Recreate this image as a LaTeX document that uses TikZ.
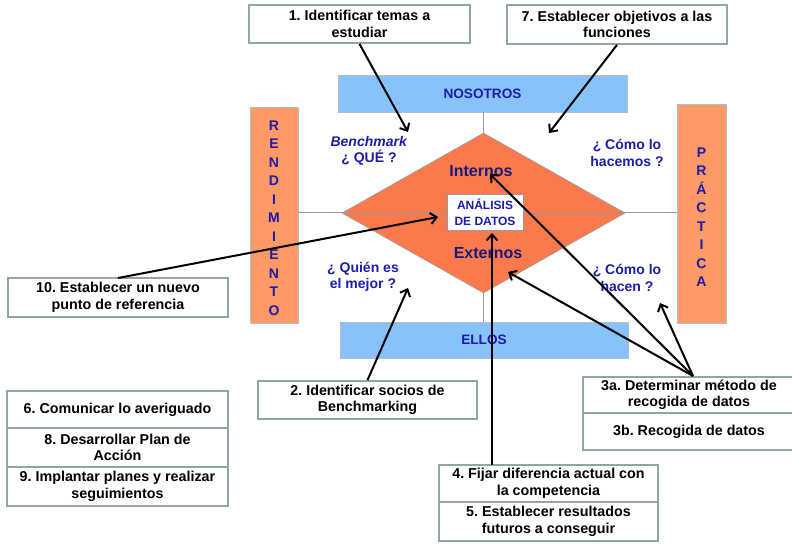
\documentclass[tikz,border=0pt]{standalone}
\usepackage{fontspec}
\setmainfont{Liberation Sans}
\usetikzlibrary{arrows.meta,shapes.geometric}
\definecolor{boxline}{HTML}{8FA6A6}
\definecolor{barblue}{HTML}{88C2FA}
\definecolor{barorange}{HTML}{FF9966}
\definecolor{diamondfill}{HTML}{FA7A4E}
\definecolor{labelblue}{HTML}{1C1CA8}
\definecolor{navy}{HTML}{1A1A78}
\definecolor{crossgray}{HTML}{9A9A9A}
\tikzset{
  stepbox/.style={draw=boxline, line width=1.8pt, fill=white, inner sep=0pt,
    align=center, font=\fontsize{14.3}{16.5}\selectfont\bfseries, text=black},
  hbar/.style={draw=boxline!70, line width=0.6pt, fill=barblue, inner sep=0pt,
    font=\fontsize{13.6}{15}\selectfont\bfseries, text=labelblue},
  vbar/.style={draw=boxline!70, line width=0.6pt, fill=barorange, inner sep=0pt},
  vtext/.style={align=center, inner sep=0pt,
    font=\fontsize{14}{18.5}\selectfont\bfseries, text=labelblue},
  question/.style={align=center, font=\fontsize{14}{16.5}\selectfont\bfseries, text=labelblue},
  axislabel/.style={font=\fontsize{16}{18}\selectfont\bfseries, text=navy},
  pointer/.style={line width=2pt, draw=black, -{Straight Barb[length=6pt,width=11pt]}},
  crossline/.style={draw=crossgray, line width=0.7pt}
}
\begin{document}
\frenchspacing
\begin{tikzpicture}[x=1pt,y=-1pt]
\useasboundingbox (0,0) rectangle (792,544);

% axis bars
\node[hbar, minimum width=289pt, minimum height=37pt] (nos) at (482.5,93.5) {NOSOTROS};
\node[hbar, minimum width=288pt, minimum height=36pt] (ellos) at (484,340) {ELLOS};
\node[vbar, minimum width=48pt, minimum height=216pt] (rend) at (274,215) {};
\node[vtext] (rendtext) at (274,218) {R\\E\\N\\D\\I\\M\\I\\E\\N\\T\\O};
\node[vbar, minimum width=49pt, minimum height=219pt] (prac) at (701.5,213.5) {};
\node[vtext] (practext) at (701.5,217) {P\\R\\Á\\C\\T\\I\\C\\A};

% vertical axis, then the diamond, then the horizontal axis on top
\draw[crossline] (nos.south -| 483,0) -- (ellos.north -| 483,0);
\node[diamond, draw=crossgray, line width=0.6pt, fill=diamondfill, inner sep=0pt,
  minimum width=283pt, minimum height=160pt] (dia) at (483.5,213) {};
\draw[crossline] (rend.east |- 0,212) -- (prac.west |- 0,212);

\node[axislabel] (int) at (481,171) {Internos};
\node[axislabel] (ext) at (488,253) {Externos};
\node[draw=crossgray, line width=0.6pt, fill=white, inner sep=0pt, align=center,
  minimum width=76pt, minimum height=36pt,
  font=\fontsize{12}{15.5}\selectfont\bfseries, text=labelblue] (ana) at (485,212)
  {ANÁLISIS\\DE DATOS};

% quadrant questions
\node[question] (q1) at (369,151) {\textit{Benchmark}\\¿ QUÉ ?};
\node[question] (q2) at (627,153) {¿ Cómo lo\\hacemos ?};
\node[question] (q3) at (363,277) {¿ Quién es\\el mejor ?};
\node[question] (q4) at (627,278) {¿ Cómo lo\\hacen ?};

% step boxes
\node[stepbox, minimum width=221pt, minimum height=38pt] (b1) at (359.5,24) {1. Identificar temas a\\estudiar};
\node[stepbox, minimum width=220pt, minimum height=39pt] (b7) at (617,24.5) {7. Establecer objetivos a las\\funciones};
\node[stepbox, minimum width=220pt, minimum height=39pt] (b10) at (118,297.5) {10. Establecer un nuevo\\punto de referencia};
\node[stepbox, minimum width=219pt, minimum height=38pt] (b2) at (367.5,400) {2. Identificar socios de\\Benchmarking};
\node[stepbox, minimum width=221pt, minimum height=37pt] (b6) at (117.5,409.5) {6. Comunicar lo averiguado};
\node[stepbox, minimum width=221pt, minimum height=39pt] (b8) at (117.5,447.5) {8. Desarrollar Plan de\\Acción};
\node[stepbox, minimum width=221pt, minimum height=39pt] (b9) at (117.5,486.5) {9. Implantar planes y realizar\\seguimientos};
\node[stepbox, minimum width=212pt, minimum height=36pt] (b3a) at (689,395) {3a. Determinar método de\\recogida de datos};
\node[stepbox, minimum width=212pt, minimum height=37pt] (b3b) at (689,431.5) {3b. Recogida de datos};
\node[stepbox, minimum width=219pt, minimum height=37pt] (b4) at (548.5,483.5) {4. Fijar diferencia actual con\\la competencia};
\node[stepbox, minimum width=219pt, minimum height=39pt] (b5) at (548.5,521.5) {5. Establecer resultados\\futuros a conseguir};

% arrow end points
\coordinate (t1) at (408,132);
\coordinate (t7) at (549,133);
\coordinate (t10) at (438,217);
\coordinate (t2) at (408,288);
\coordinate (s4) at (492,465);
\coordinate (t4) at (492,233);
\coordinate (s3) at (693,376);
\coordinate (tint) at (490,174);
\coordinate (text) at (508,272);
\coordinate (tprac) at (660,303);
\coordinate (s10) at (118,278);

% connectors
\draw[pointer] (b1.south) -- (t1);
\draw[pointer] (b7.south) -- (t7);
\draw[pointer] (s10) -- (t10);
\draw[pointer] (b2.north) -- (t2);
\draw[pointer] (s4) -- (t4);
\draw[pointer] (s3) -- (tint);
\draw[pointer] (s3) -- (text);
\draw[pointer] (s3) -- (tprac);
\end{tikzpicture}
\end{document}
